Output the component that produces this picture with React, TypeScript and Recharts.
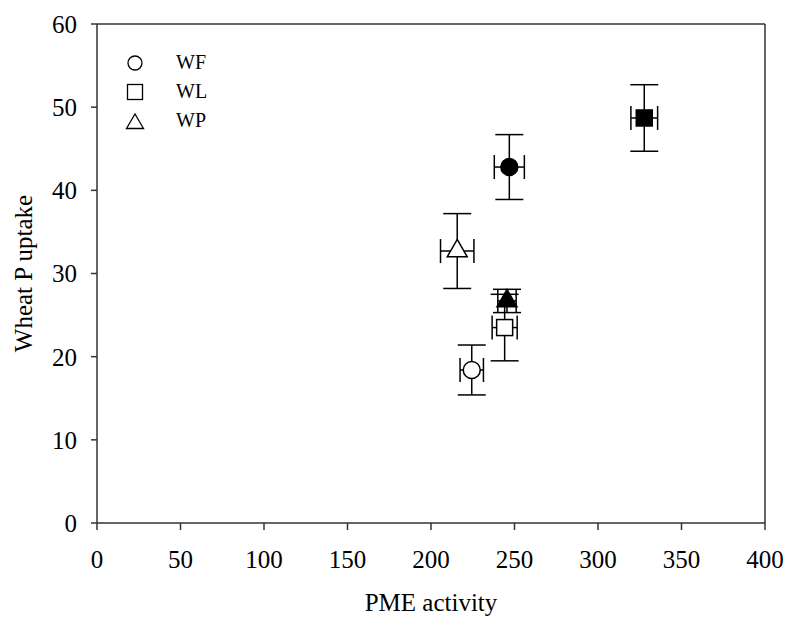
import React from "react";
import {
  ScatterChart,
  Scatter,
  XAxis,
  YAxis,
  ErrorBar,
  ReferenceLine,
  Label,
} from "recharts";

// Open symbols (legend entries) and filled symbols
const seriesNames = ["WF", "WL", "WP"];
const pmeOpen = [224.4, 244.1, 215.7];
const uptakeOpen = [18.4, 23.5, 32.7];
const pmeErrOpen = [7, 7.5, 10];
const uptakeErrOpen = [3.0, 4.0, 4.5];
const pmeFilled = [246.9, 327.7, 245.5];
const uptakeFilled = [42.8, 48.7, 26.7];
const pmeErrFilled = [9, 8, 5.5];
const uptakeErrFilled = [3.9, 4.0, 1.4];
const xTicks = [0, 50, 100, 150, 200, 250, 300, 350, 400];
const yTicks = [0, 10, 20, 30, 40, 50, 60];

const shapes = ["circle", "square", "triangle"];

const makeShape = (kind: string, filled: boolean) => (props: any) => {
  const { cx, cy } = props;
  const fill = filled ? "#000" : "#fff";
  const stroke = "#000";
  if (kind === "circle") {
    return <circle cx={cx} cy={cy} r={8.5} fill={fill} stroke={stroke} strokeWidth={1.5} />;
  }
  if (kind === "square") {
    return <rect x={cx - 8} y={cy - 8} width={16} height={16} fill={fill} stroke={stroke} strokeWidth={1.5} />;
  }
  const s = 20;
  const h = (s * Math.sqrt(3)) / 2;
  const pts = `${cx},${cy - (2 * h) / 3} ${cx + s / 2},${cy + h / 3} ${cx - s / 2},${cy + h / 3}`;
  return <polygon points={pts} fill={fill} stroke={stroke} strokeWidth={1.5} />;
};

const LegendIcon = ({ kind }: { kind: string }) => (
  <svg width={20} height={20} style={{ display: "block" }}>
    {kind === "circle" && <circle cx={10} cy={10} r={7} fill="#fff" stroke="#000" strokeWidth={1.3} />}
    {kind === "square" && <rect x={2.5} y={2.5} width={15} height={15} fill="#fff" stroke="#000" strokeWidth={1.3} />}
    {kind === "triangle" && <polygon points="10,3 18.5,17.5 1.5,17.5" fill="#fff" stroke="#000" strokeWidth={1.3} />}
  </svg>
);

const font = "'Liberation Serif', 'Times New Roman', serif";

const ChartLegend = () => (
  <div
    style={{
      position: "absolute",
      left: 117,
      top: 40,
      fontFamily: font,
      fontSize: 20,
      color: "#000",
      lineHeight: "29px",
    }}
  >
    {seriesNames.map((n, i) => (
      <div key={n} style={{ display: "flex", alignItems: "center", height: 29 }}>
        <LegendIcon kind={shapes[i]} />
        <span style={{ marginLeft: 31 }}>{n}</span>
      </div>
    ))}
  </div>
);

export default function App() {
  const openData = seriesNames.map((n, i) => ({
    name: n,
    x: pmeOpen[i],
    y: uptakeOpen[i],
    ex: pmeErrOpen[i],
    ey: uptakeErrOpen[i],
  }));
  const filledData = seriesNames.map((n, i) => ({
    name: n,
    x: pmeFilled[i],
    y: uptakeFilled[i],
    ex: pmeErrFilled[i],
    ey: uptakeErrFilled[i],
  }));
  const tickStyle = { fontFamily: font, fontSize: 25, fill: "#000" };
  return (
    <div style={{ position: "relative", width: 778, height: 613, marginLeft: 8, marginTop: 8, background: "#fff" }}>
      <style>{`html, body { margin: 0; padding: 0; background: #fff; }`}</style>
      <ScatterChart width={778} height={613} margin={{ top: 16, right: 21, bottom: 0, left: 0 }}>
        <XAxis
          type="number"
          dataKey="x"
          domain={[0, 400]}
          ticks={xTicks}
          allowDataOverflow
          height={98}
          tickSize={7}
          tickMargin={20}
          stroke="#333"
          strokeWidth={1.5}
          tick={tickStyle}
          tickLine={{ stroke: "#333" }}
        >
          <Label
            value="PME activity"
            position="insideBottom"
            offset={10}
            style={{ fontFamily: font, fontSize: 25, fill: "#000" }}
          />
        </XAxis>
        <YAxis
          type="number"
          dataKey="y"
          domain={[0, 60]}
          ticks={yTicks}
          allowDataOverflow
          width={89}
          tickSize={6}
          tickMargin={14}
          stroke="#333"
          strokeWidth={1.5}
          tick={tickStyle}
          tickLine={{ stroke: "#333" }}
        >
          <Label
            value="Wheat P uptake"
            angle={-90}
            position="insideLeft"
            offset={15}
            style={{ fontFamily: font, fontSize: 25, fill: "#000", textAnchor: "middle" }}
          />
        </YAxis>
        <ReferenceLine y={60} stroke="#333" strokeWidth={1.5} />
        <ReferenceLine x={400} stroke="#333" strokeWidth={1.5} />
        {seriesNames.map((n, i) => (
          <Scatter
            key={"f" + n}
            name={n + " filled"}
            data={[filledData[i]]}
            shape={makeShape(shapes[i], true)}
            isAnimationActive={false}
            legendType="none"
          >
            <ErrorBar dataKey="ex" direction="x" width={12} stroke="#000" strokeWidth={1.5} />
            <ErrorBar dataKey="ey" direction="y" width={14} stroke="#000" strokeWidth={1.5} />
          </Scatter>
        ))}
        {seriesNames.map((n, i) => (
          <Scatter
            key={"o" + n}
            name={n}
            data={[openData[i]]}
            shape={makeShape(shapes[i], false)}
            isAnimationActive={false}
          >
            <ErrorBar dataKey="ex" direction="x" width={12} stroke="#000" strokeWidth={1.5} />
            <ErrorBar dataKey="ey" direction="y" width={14} stroke="#000" strokeWidth={1.5} />
          </Scatter>
        ))}
      </ScatterChart>
      <ChartLegend />
    </div>
  );
}
